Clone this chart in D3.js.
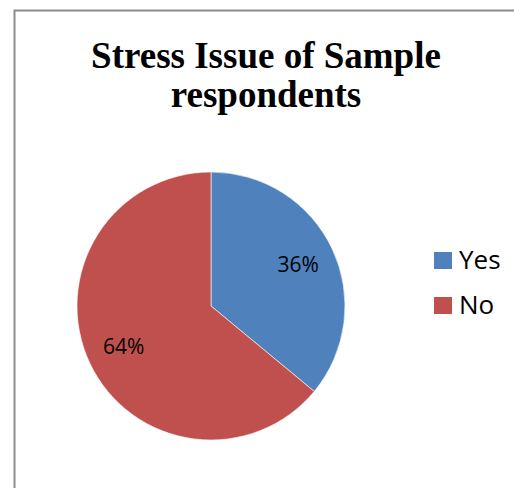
<!DOCTYPE html>
<html>
<head>
<meta charset="utf-8">
<script src="https://cdnjs.cloudflare.com/ajax/libs/d3/7.8.5/d3.min.js"></script>
<style>
  body { margin: 0; background: #fff; }
</style>
</head>
<body>
<div id="chart"></div>
<script>
// Stress issue pie: Yes / No share of respondents

let categories = ["Yes", "No"];
let values = [36, 64];
let colors = ["#4F81BD", "#C0504D"];
let titleLines = ["Stress Issue of Sample", "respondents"];

width = 514;
height = 488;

let cx = 211, cy = 306, radius = 134;

svg = d3.select("#chart")
  .append("svg")
  .attr("width", width)
  .attr("height", height)

// chart frame (runs off the page on right and bottom)
svg.append("path")
  .attr("d", "M14.5," + height + " L14.5,10.5 L" + width + ",10.5")
  .attr("fill", "none")
  .attr("stroke", "#8c8c8c")
  .attr("stroke-width", 2)

// title
svg.selectAll(".title")
  .data(titleLines)
  .enter().append("text")
  .attr("class", "title")
  .attr("x", 266)
  .attr("y", (d, i) => 68 + i * 39)
  .attr("text-anchor", "middle")
  .attr("font-family", "Liberation Serif, Times New Roman, serif")
  .attr("font-weight", "bold")
  .attr("font-size", 37)
  .text(d => d)

let data = categories.map((c, i) => ({ name: c, value: values[i], color: colors[i] }))

let pie = d3.pie().sort(null).value(d => d.value)
let arc = d3.arc().innerRadius(0).outerRadius(radius)
let labelArc = d3.arc().innerRadius(radius * 0.72).outerRadius(radius * 0.72)

let g = svg.append("g")
  .attr("transform", "translate(" + cx + "," + cy + ")")

let arcs = pie(data)

g.selectAll("path")
  .data(arcs)
  .enter().append("path")
  .attr("d", arc)
  .attr("fill", d => d.data.color)
  .attr("stroke", "#ffffff")
  .attr("stroke-width", 0.6)

g.selectAll(".lbl")
  .data(arcs)
  .enter().append("text")
  .attr("class", "lbl")
  .attr("transform", d => "translate(" + labelArc.centroid(d) + ")")
  .attr("text-anchor", "middle")
  .attr("dy", "0.35em")
  .attr("font-family", "Open Sans, sans-serif")
  .attr("font-size", 21)
  .attr("fill", "#000")
  .text(d => d.data.value + "%")

// legend
let legend = svg.selectAll(".legend")
  .data(data)
  .enter().append("g")
  .attr("class", "legend")
  .attr("transform", (d, i) => "translate(434," + (252 + i * 45) + ")")

legend.append("rect")
  .attr("width", 18)
  .attr("height", 17)
  .attr("fill", d => d.color)

legend.append("text")
  .attr("x", 25)
  .attr("y", 17)
  .attr("font-family", "Open Sans, sans-serif")
  .attr("font-size", 26)
  .attr("fill", "#000")
  .text(d => d.name)
</script>
</body>
</html>
